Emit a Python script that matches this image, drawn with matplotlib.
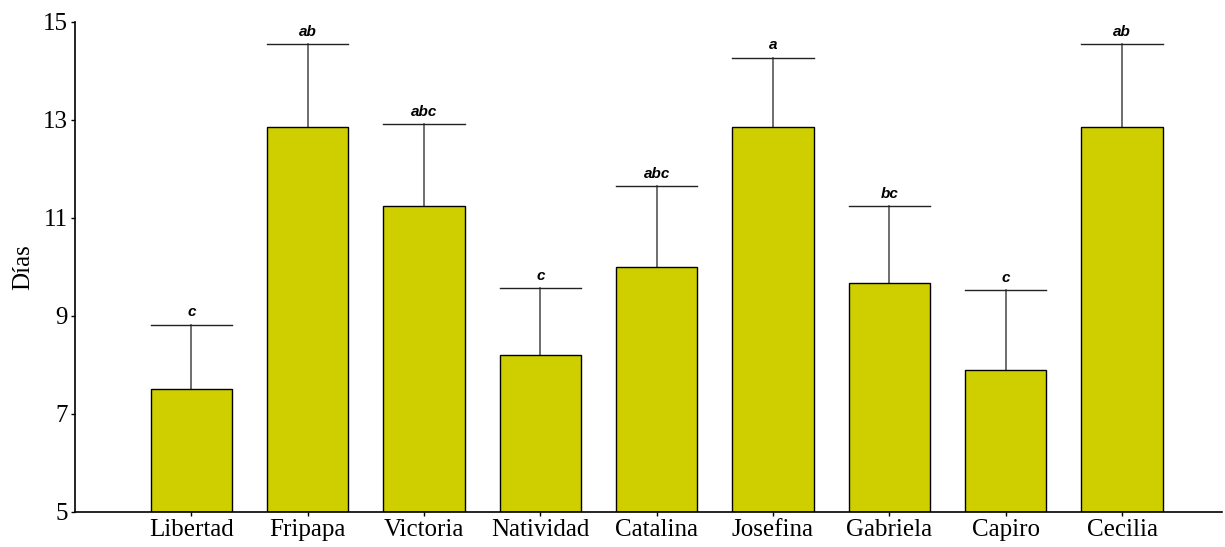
import matplotlib.pyplot as plt

variedades = ["Libertad", "Fripapa", "Victoria", "Natividad", "Catalina",
              "Josefina", "Gabriela", "Capiro", "Cecilia"]
dias = [7.51, 12.86, 11.24, 8.20, 10.0, 12.86, 9.67, 7.90, 12.86]
error = [1.31, 1.69, 1.68, 1.37, 1.65, 1.41, 1.57, 1.63, 1.69]
letras = ["c", "ab", "abc", "c", "abc", "a", "bc", "c", "ab"]

fig = plt.figure(figsize=(12.25, 5.47), dpi=100)
ax = fig.add_axes([0.0612, 0.064, 0.9364, 0.8958])

x = list(range(len(variedades)))
ax.bar(x, [d - 5 for d in dias], bottom=5, width=0.70,
       color="#CFCF00", edgecolor="black", linewidth=1.0, zorder=2)

# error bars (only upward)
for i in x:
    top = dias[i] + error[i]
    ax.plot([i, i], [dias[i], top], color="#555555", linewidth=1.2, zorder=1)
    ax.plot([i - 0.35, i + 0.35], [top, top], color="#222222", linewidth=1.0, zorder=1)
    ax.text(i, top + 0.11, letras[i], ha="center", va="bottom",
            fontfamily="Liberation Sans", fontweight="bold", fontstyle="italic",
            fontsize=11)

ax.set_xlim(-1.0, 8.86)
ax.set_ylim(5, 15)
ax.set_yticks([5, 7, 9, 11, 13, 15])
ax.set_xticks(x)
ax.set_xticklabels(variedades)

for lab in ax.get_xticklabels() + ax.get_yticklabels():
    lab.set_fontfamily("Liberation Serif")
    lab.set_fontsize(18)

ax.set_ylabel("Días", fontfamily="Liberation Serif", fontsize=18, labelpad=6)
ax.tick_params(axis="both", length=3, width=1, pad=2)

ax.spines["top"].set_visible(False)
ax.spines["right"].set_visible(False)
ax.spines["left"].set_linewidth(1.2)
ax.spines["bottom"].set_linewidth(1.2)

fig.savefig("out.png", dpi=100)
